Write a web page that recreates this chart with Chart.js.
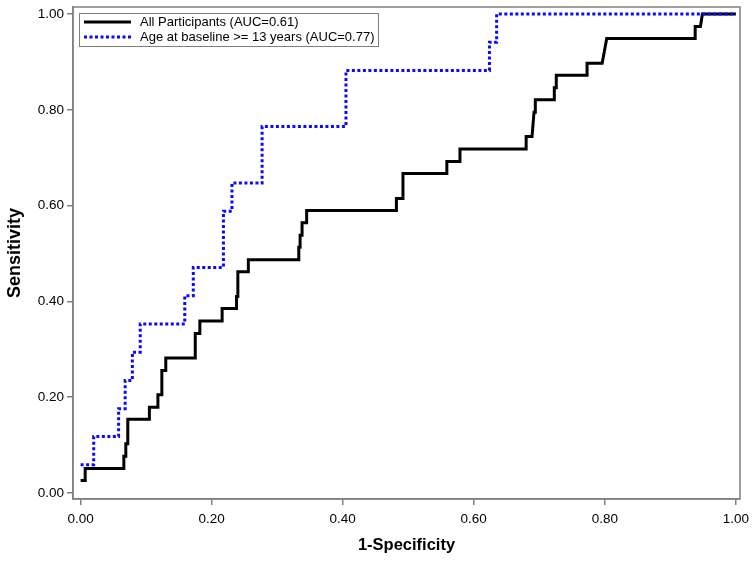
<!DOCTYPE html>
<html>
<head>
<meta charset="utf-8">
<title>ROC curves</title>
<script src="https://cdn.jsdelivr.net/npm/chart.js"></script>
<style>
  body { margin: 0; background: #fff; }
  #roc { display: block; }
</style>
</head>
<body>
<canvas id="roc" width="754" height="562"></canvas>
<script>
// ROC operating points (1-specificity, sensitivity)
const allFpr = [0.000, 0.007, 0.007, 0.066, 0.066, 0.069, 0.069, 0.072, 0.072, 0.105, 0.105, 0.118, 0.118, 0.124, 0.124,
  0.130, 0.130, 0.175, 0.175, 0.182, 0.182, 0.216, 0.216, 0.238, 0.238, 0.240, 0.240, 0.256, 0.256, 0.333, 0.333,
  0.335, 0.335, 0.338, 0.338, 0.345, 0.345, 0.482, 0.482, 0.492, 0.492, 0.559, 0.559, 0.579, 0.579, 0.680, 0.680,
  0.689, 0.692, 0.694, 0.694, 0.723, 0.723, 0.726, 0.726, 0.773, 0.773, 0.796, 0.803, 0.938, 0.938, 0.946, 0.949, 1.000];
const allTpr = [0.026, 0.026, 0.051, 0.051, 0.077, 0.077, 0.103, 0.103, 0.154, 0.154, 0.179, 0.179, 0.205, 0.205, 0.256,
  0.256, 0.282, 0.282, 0.333, 0.333, 0.359, 0.359, 0.385, 0.385, 0.410, 0.410, 0.462, 0.462, 0.487, 0.487, 0.513,
  0.513, 0.538, 0.538, 0.564, 0.564, 0.590, 0.590, 0.615, 0.615, 0.667, 0.667, 0.692, 0.692, 0.718, 0.718, 0.744,
  0.744, 0.795, 0.795, 0.821, 0.821, 0.846, 0.846, 0.872, 0.872, 0.897, 0.897, 0.949, 0.949, 0.974, 0.974, 1.000, 1.000];

const oldFpr = [0.000, 0.020, 0.020, 0.058, 0.058, 0.068, 0.068, 0.079, 0.079, 0.091, 0.091, 0.159, 0.159, 0.172, 0.172,
  0.218, 0.218, 0.231, 0.231, 0.277, 0.277, 0.405, 0.405, 0.624, 0.624, 0.635, 0.635, 1.000];
const oldTpr = [0.059, 0.059, 0.118, 0.118, 0.176, 0.176, 0.235, 0.235, 0.294, 0.294, 0.353, 0.353, 0.412, 0.412, 0.471,
  0.471, 0.588, 0.588, 0.647, 0.647, 0.765, 0.765, 0.882, 0.882, 0.941, 0.941, 1.000, 1.000];

const seriesLabels = ['All Participants (AUC=0.61)', 'Age at baseline >= 13 years (AUC=0.77)'];
const tickVals = [0, 0.2, 0.4, 0.6, 0.8, 1.0];

const toPts = (xs, ys) => xs.map((x, i) => ({ x: x, y: ys[i] }));
const FONT = "'Liberation Sans', Arial, sans-serif";
const GRAY = '#808080';

// frame round the plot area + legend box in the upper left corner
const framePlugin = {
  id: 'frame',
  afterDatasetsDraw(chart) {
    const { ctx, chartArea: a } = chart;
    ctx.save();
    ctx.strokeStyle = GRAY;
    ctx.lineWidth = 1.5;
    ctx.strokeRect(a.left, a.top, a.right - a.left, a.bottom - a.top);

    const bx = a.left + 6, by = a.top + 6, bw = 299, bh = 33;
    ctx.fillStyle = '#fff';
    ctx.fillRect(bx, by, bw, bh);
    ctx.font = '13px ' + FONT;
    ctx.textBaseline = 'middle';
    chart.data.datasets.forEach((ds, i) => {
      const yy = by + 9 + i * 15;
      ctx.beginPath();
      ctx.strokeStyle = ds.borderColor;
      ctx.lineWidth = ds.borderWidth;
      ctx.setLineDash(ds.borderDash || []);
      ctx.moveTo(bx + 5, yy);
      ctx.lineTo(bx + 52, yy);
      ctx.stroke();
      ctx.setLineDash([]);
      ctx.fillStyle = '#000';
      ctx.fillText(ds.label, bx + 61, yy);
    });
    ctx.strokeStyle = GRAY;
    ctx.lineWidth = 1;
    ctx.strokeRect(bx + 0.5, by + 0.5, bw, bh);
    ctx.restore();
  }
};

const noPad = s => { s.paddingTop = 0; s.paddingBottom = 0; s.paddingLeft = 0; s.paddingRight = 0; };

const axisCommon = {
  type: 'linear',
  grid: { display: true, drawOnChartArea: false, drawTicks: true, tickLength: 6, color: GRAY, lineWidth: 1.5 },
  border: { display: true, color: GRAY, width: 1.5 },
  afterBuildTicks: s => { s.ticks = tickVals.map(v => ({ value: v })); },
  ticks: { color: '#000', font: { family: FONT, size: 13.5 }, callback: v => Number(v).toFixed(2) },
  title: { display: true, color: '#000', font: { family: FONT, weight: 'bold' } }
};

new Chart(document.getElementById('roc'), {
  type: 'scatter',
  data: {
    datasets: [
      { label: seriesLabels[0], data: toPts(allFpr, allTpr), showLine: true, borderColor: '#000000',
        borderWidth: 3, pointRadius: 0, tension: 0, order: 1 },
      { label: seriesLabels[1], data: toPts(oldFpr, oldTpr), showLine: true, borderColor: '#0a0aff',
        borderWidth: 3, borderDash: [3, 2.5], pointRadius: 0, tension: 0, order: 0 }
    ]
  },
  options: {
    responsive: false,
    animation: false,
    layout: { padding: { top: 7, right: 14, left: 0, bottom: 0 } },
    plugins: { legend: { display: false }, tooltip: { enabled: false } },
    scales: {
      x: Object.assign({}, axisCommon, {
        min: -0.0116, max: 1.0064,
        ticks: Object.assign({}, axisCommon.ticks, { padding: 6, maxRotation: 0 }),
        title: Object.assign({}, axisCommon.title, { text: '1-Specificity',
          font: { family: FONT, size: 16.5, weight: 'bold' }, padding: { top: 0, bottom: 7 } }),
        afterFit: s => { noPad(s); s.height = 63; }
      }),
      y: Object.assign({}, axisCommon, {
        min: -0.0125, max: 1.0146,
        ticks: Object.assign({}, axisCommon.ticks, { padding: 3 }),
        title: Object.assign({}, axisCommon.title, { text: 'Sensitivity',
          font: { family: FONT, size: 18, weight: 'bold' }, padding: { top: 4, bottom: 0 } }),
        afterFit: s => { noPad(s); s.width = 73; }
      })
    }
  },
  plugins: [framePlugin]
});
</script>
</body>
</html>
